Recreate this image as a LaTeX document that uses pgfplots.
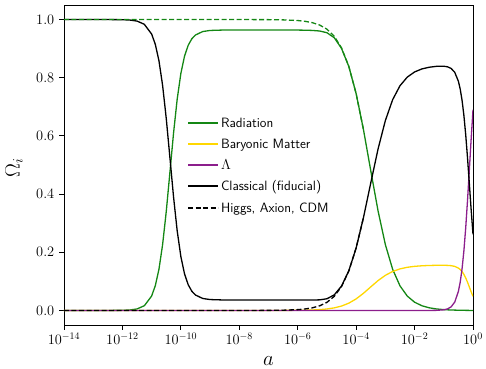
\documentclass[border=0pt]{standalone}
\usepackage{pgfplots}
\pgfplotsset{compat=1.18}
\usepackage{pgfplotstable}
\definecolor{radgreen}{RGB}{20,135,20}
\definecolor{bargold}{RGB}{255,215,0}
\definecolor{lampurple}{RGB}{140,30,140}

% x = log10(a)
\pgfplotstableread{
x rad bar lam cl
-14 0 0 0 1
-13 0 0 0 1
-12.5 0.00005 0 0 0.99995
-12 0.00052 0 0 0.99948
-11.75 0.00166 0 0 0.99834
-11.5 0.00522 0 0 0.99478
-11.25 0.01631 0 0 0.98369
-11 0.04978 0 0 0.95022
-10.875 0.0851 0 0 0.9149
-10.75 0.1416 0 0 0.8584
-10.625 0.2260 0 0 0.7740
-10.5 0.3399 0 0 0.6601
-10.375 0.4743 0 0 0.5257
-10.25 0.6099 0 0 0.3901
-10.125 0.7269 0 0 0.2731
-10 0.8147 0 0 0.1853
-9.875 0.8740 0 0 0.1260
-9.75 0.9113 0 0 0.0887
-9.625 0.93381 0 0 0.06619
-9.5 0.9469 0 0 0.0531
-9.25 0.9588 0 0 0.0412
-9 0.9625 0 0 0.0375
-8.5 0.9641 0 0 0.0359
-8 0.9643 0.00002 0 0.0357
-7 0.9642 0.00005 0 0.0357
-6.5 0.96418 0.00016 0 0.03567
-6 0.96382 0.00052 0 0.03567
-5.75 0.96341 0.00091 0 0.03567
-5.5 0.96258 0.00162 0 0.03579
-5.25 0.96061 0.00288 0 0.03651
-5 0.95471 0.00509 0 0.04020
-4.75 0.93762 0.00890 0 0.05348
-4.5 0.90085 0.01520 0 0.08395
-4.25 0.83835 0.02515 0 0.13650
-4 0.74518 0.03976 0 0.21506
-3.75 0.62199 0.05901 0 0.31900
-3.5 0.48060 0.08109 0 0.43831
-3.25 0.34225 0.10269 0 0.55506
-3 0.22637 0.12078 0 0.65285
-2.75 0.14130 0.13406 0 0.72464
-2.5 0.08469 0.14290 0 0.77241
-2.25 0.04946 0.14840 0 0.80214
-2 0.02843 0.15168 0 0.81989
-1.75 0.01619 0.15359 0.00001 0.83021
-1.5 0.00917 0.15468 0.00007 0.83609
-1.25 0.00517 0.15525 0.00039 0.83918
-1 0.00291 0.15532 0.00221 0.83956
-0.875 0.00218 0.15496 0.00524 0.83762
-0.75 0.00162 0.15394 0.01234 0.83210
-0.625 0.00120 0.15144 0.02878 0.81859
-0.5 0.00086 0.14573 0.06567 0.78773
-0.4375 0.00072 0.14075 0.09768 0.76084
-0.375 0.00059 0.13372 0.14289 0.72279
-0.3125 0.00048 0.12415 0.20430 0.67107
-0.25 0.00037 0.11182 0.28337 0.60443
-0.1875 0.00028 0.09699 0.37848 0.52426
-0.125 0.00020 0.08053 0.48395 0.43532
-0.0625 0.00014 0.06385 0.59088 0.34514
0 0.00009 0.04841 0.68984 0.26167
}\classical

\pgfplotstableread{
x hrad hcdm
-14 1 0
-8 0.99997 0.00003
-7 0.99966 0.00029
-6.5 0.99892 0.00091
-6 0.99659 0.00287
-5.75 0.99396 0.00510
-5.5 0.98931 0.00902
-5.25 0.98114 0.01591
-5 0.96695 0.02789
-4.75 0.94271 0.04835
-4.5 0.90247 0.08231
-4.25 0.83880 0.13604
-4 0.74529 0.21495
-3.75 0.62199 0.31900
}\higgs

\begin{document}
\begin{tikzpicture}
\useasboundingbox (-64pt,-43pt) rectangle (422pt,325pt);
\begin{axis}[
  at={(0,0)}, anchor=south west,
  scale only axis, width=409pt, height=320pt,
  xmin=-14, xmax=0, ymin=-0.05, ymax=1.05,
  xtick={-14,-12,-10,-8,-6,-4,-2,0},
  xticklabels={$10^{-14}$,$10^{-12}$,$10^{-10}$,$10^{-8}$,$10^{-6}$,$10^{-4}$,$10^{-2}$,$10^{0}$},
  ytick={0,0.2,0.4,0.6,0.8,1},
  yticklabel style={/pgf/number format/fixed,/pgf/number format/fixed zerofill,/pgf/number format/precision=1, xshift=-1.5pt},
  tick pos=left, tick align=outside, major tick length=4.7pt,
  tick style={black, line width=0.9pt},
  axis line style={line width=0.9pt},
  ticklabel style={font=\fontsize{14.5}{16}\selectfont},
  xlabel={$a$}, ylabel={$\Omega_i$},
  label style={font=\fontsize{20}{20}\selectfont, inner sep=0pt},
  xlabel style={at={(axis description cs:0.5,-0.112)}, anchor=center},
  ylabel style={at={(axis description cs:-0.122,0.49)}, anchor=center},
  legend style={draw=none, fill=none, at={(0.293,0.664)}, anchor=north west,
    font=\sffamily\fontsize{13.5}{15}\selectfont, row sep=5.2pt},
  legend cell align=left,
  legend image code/.code={\draw[#1, line width=2pt] (0pt,0pt) -- (30pt,0pt);},
]
\addplot[draw=radgreen, line width=1.3pt] table[x=x,y=rad]{\classical};
\addlegendentry{\strut Radiation}
\addplot[draw=bargold, line width=1.3pt] table[x=x,y=bar]{\classical};
\addlegendentry{\strut Baryonic Matter}
\addplot[draw=lampurple, line width=1.3pt] table[x=x,y=lam]{\classical};
\addlegendentry{\strut$\Lambda$}
\addplot[draw=black, line width=1.3pt] table[x=x,y=cl]{\classical};
\addlegendentry{\strut Classical (fiducial)}
\addplot[draw=black, line width=1.3pt, dash pattern=on 5pt off 2.5pt] table[x=x,y=hcdm]{\higgs};
\addlegendentry{\strut Higgs, Axion, CDM}
\addplot[draw=radgreen, line width=1.3pt, dash pattern=on 5pt off 2.5pt, forget plot] table[x=x,y=hrad]{\higgs};
\end{axis}
\end{tikzpicture}
\end{document}
